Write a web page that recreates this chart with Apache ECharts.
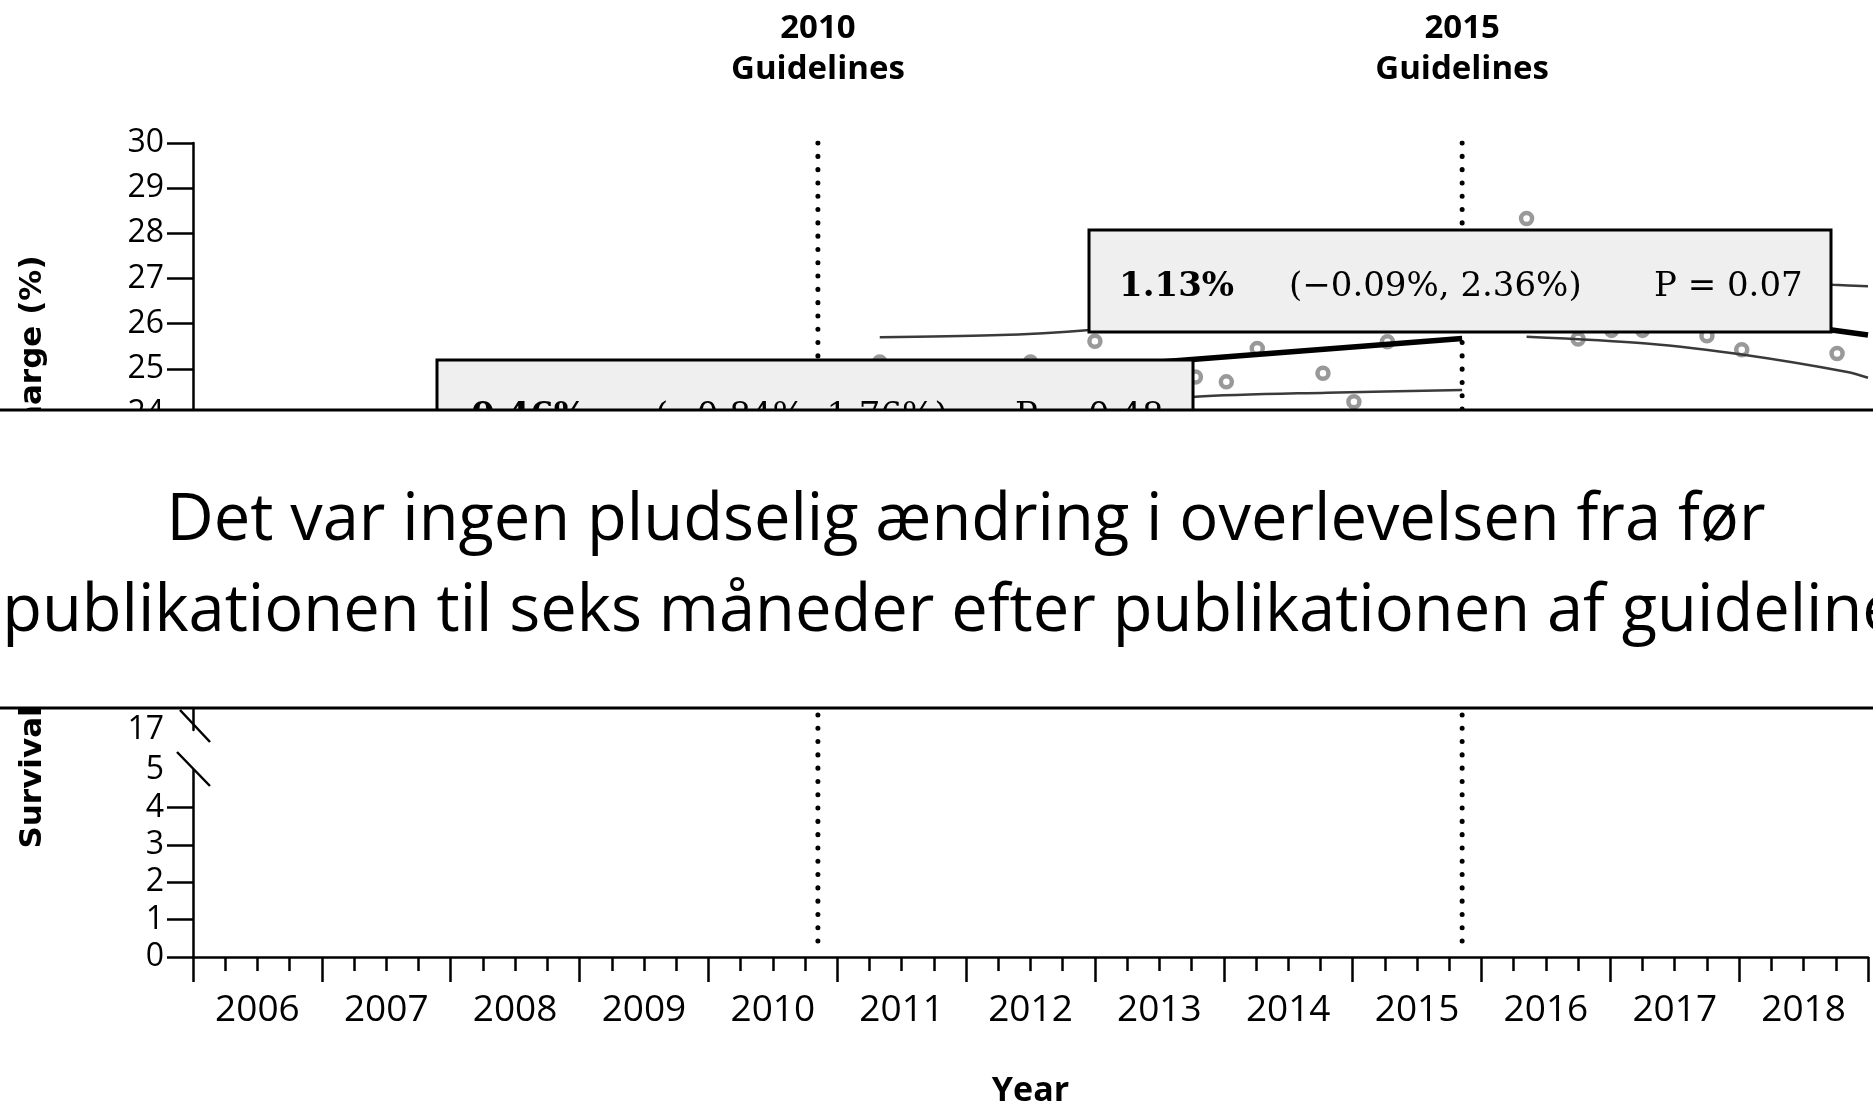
<!DOCTYPE html>
<html>
<head>
<meta charset="utf-8">
<script src="https://cdn.jsdelivr.net/npm/echarts@6/dist/echarts.min.js"></script>
<style>
  html, body { margin: 0; padding: 0; background: #fff; }
  #chart { width: 1873px; height: 1107px; }
</style>
</head>
<body>
<div id="chart"></div>
<script>
// x axis categories
const years = ['2006', '2007', '2008', '2009', '2010', '2011', '2012', '2013', '2014', '2015', '2016', '2017', '2018'];
const upperTickLabels = [17, 18, 19, 20, 21, 22, 23, 24, 25, 26, 27, 28, 29, 30];
const upperTicks = [18, 19, 20, 21, 22, 23, 24, 25, 26, 27, 28, 29, 30];
const lowerTickLabels = [0, 1, 2, 3, 4, 5];
const lowerTicks = [0, 1, 2, 3, 4];

// guideline publication (October)
const guidelineYears = [2010.85, 2015.85];
const guidelineLabels = ['2010', '2015'];

// quarterly survival (%) - the points that are not hidden by the overlay
const pointsPre = [[2011.33, 25.15], [2012.5, 25.15], [2013.0, 25.61], [2013.78, 24.82], [2014.02, 24.71],
  [2014.26, 25.45], [2014.77, 24.9], [2015.01, 24.27], [2015.27, 25.6]];
const pointsPost = [[2016.35, 28.33], [2016.75, 25.66], [2017.01, 25.85], [2017.25, 25.85],
  [2017.75, 25.73], [2018.02, 25.42], [2018.76, 25.34]];

// segmented regression fit + 95% CI
const fitPre = [[2011.33, 24.67], [2015.85, 25.67]];
const upperPre = [[2011.33, 25.7], [2012.2, 25.74], [2012.96, 25.86], [2014.4, 26.25], [2015.85, 26.81]];
const lowerPre = [[2011.33, 23.64], [2012.5, 24.08], [2013.78, 24.38], [2014.8, 24.47], [2015.85, 24.53]];
const fitPost = [[2016.33, 26.8], [2019, 25.75]];
const upperPost = [[2016.33, 27.9], [2017.5, 27.04], [2018.73, 26.86], [2019, 26.83]];
const lowerPost = [[2016.35, 25.71], [2017.28, 25.56], [2018.06, 25.3], [2018.84, 24.93], [2019, 24.8]];

// level change boxes
const effects = [
  { est: '1.13%', ci: '(\u22120.09%, 2.36%)', p: 'P = 0.07' },
  { est: '0.46%', ci: '(\u22120.84%, 1.76%)', p: 'P = 0.48' }
];

const overlayLines = [
  'Det var ingen pludselig ændring i overlevelsen fra før',
  'publikationen til seks måneder efter publikationen af guidelines'
];

const chart = echarts.init(document.getElementById('chart'));

const axisColor = '#000';
const sans = '"Open Sans", sans-serif';
const ciStyle = { color: '#3a3a3a', width: 2.5 };

const lineSeries = (data, style, smooth) => ({
  type: 'line',
  xAxisIndex: 0,
  yAxisIndex: 0,
  data: data,
  symbol: 'none',
  smooth: smooth ? 0.3 : false,
  lineStyle: style,
  z: 3,
  silent: true
});

const option = {
  animation: false,
  backgroundColor: '#fff',
  grid: [
    { left: 193, right: 5, top: 143, bottom: 377, outerBoundsMode: 'none' },
    { left: 193, right: 5, top: 770, bottom: 150, outerBoundsMode: 'none' },
    { left: 193, right: 5, top: 143, bottom: 155, outerBoundsMode: 'none' }
  ],
  xAxis: [
    { gridIndex: 0, type: 'value', min: 2006, max: 2019, show: false },
    {
      gridIndex: 1, type: 'value', min: 2006, max: 2019, interval: 1,
      axisLine: { show: true, lineStyle: { color: axisColor, width: 2.5 } },
      axisTick: { show: true, length: 25, lineStyle: { color: axisColor, width: 2.5 } },
      minorTick: { show: true, splitNumber: 4, length: 14, lineStyle: { color: axisColor, width: 2.5 } },
      axisLabel: { show: false },
      splitLine: { show: false },
      minorSplitLine: { show: false },
      name: 'Year',
      nameLocation: 'middle',
      nameGap: 117,
      nameTextStyle: { fontFamily: sans, fontWeight: 'bold', fontSize: 34, color: '#000' }
    },
    {
      gridIndex: 1, type: 'category', data: years, position: 'bottom',
      axisLine: { show: false }, axisTick: { show: false },
      axisLabel: { interval: 0, margin: 35, fontFamily: sans, fontSize: 37, color: '#000' }
    },
    { gridIndex: 2, type: 'value', min: 2006, max: 2019, show: false }
  ],
  yAxis: [
    {
      gridIndex: 0, type: 'value', min: 17, max: 30, interval: 1,
      axisLine: { show: true, lineStyle: { color: axisColor, width: 2.5 } },
      axisTick: { show: true, length: 26, customValues: upperTicks, lineStyle: { color: axisColor, width: 2.5 } },
      axisLabel: { customValues: upperTickLabels, margin: 29, fontFamily: sans, fontSize: 32, color: '#000' },
      splitLine: { show: false }
    },
    {
      gridIndex: 1, type: 'value', min: 0, max: 5, interval: 1,
      axisLine: { show: true, lineStyle: { color: axisColor, width: 2.5 } },
      axisTick: { show: true, length: 26, customValues: lowerTicks, lineStyle: { color: axisColor, width: 2.5 } },
      axisLabel: { customValues: lowerTickLabels, margin: 29, fontFamily: sans, fontSize: 32, color: '#000' },
      splitLine: { show: false }
    },
    { gridIndex: 2, type: 'value', min: 0, max: 1, show: false }
  ],
  series: [
    {
      type: 'scatter',
      xAxisIndex: 0,
      yAxisIndex: 0,
      data: pointsPre.concat(pointsPost),
      symbol: 'circle',
      symbolSize: 11,
      itemStyle: { color: '#fff', borderColor: '#999', borderWidth: 4.5, opacity: 1 },
      z: 2,
      silent: true
    },
    lineSeries(upperPre, ciStyle, true),
    lineSeries(lowerPre, ciStyle, true),
    lineSeries(upperPost, ciStyle, true),
    lineSeries(lowerPost, ciStyle, true),
    lineSeries(fitPre, { color: '#000', width: 5.5 }, false),
    lineSeries(fitPost, { color: '#000', width: 5.5 }, false)
  ].concat(guidelineYears.map(g => ({
    type: 'line',
    xAxisIndex: 3,
    yAxisIndex: 2,
    // drawn top to bottom so the dot pattern starts at the 30% tick
    data: [[g, 1], [g, 0]],
    symbol: 'none',
    lineStyle: { color: '#000', width: 5, type: [0.1, 13.2], cap: 'round' },
    z: 1,
    silent: true
  })))
};

chart.setOption(option);

// annotations placed from the axes
const gx = guidelineYears.map(g => chart.convertToPixel({ xAxisIndex: 1 }, g));
const axisX = chart.convertToPixel({ xAxisIndex: 1 }, 2006);
const y17 = chart.convertToPixel({ yAxisIndex: 0 }, 17);
const y5 = chart.convertToPixel({ yAxisIndex: 1 }, 5);

const elements = [];

gx.forEach((x, i) => {
  elements.push({
    type: 'text', x: x, y: 29, z: 20,
    style: { text: guidelineLabels[i], fontFamily: sans, fontWeight: 'bold', fontSize: 33, fill: '#000', align: 'center', verticalAlign: 'middle' }
  });
  elements.push({
    type: 'text', x: x, y: 70, z: 20,
    style: { text: 'Guidelines', fontFamily: sans, fontWeight: 'bold', fontSize: 33, fill: '#000', align: 'center', verticalAlign: 'middle' }
  });
});

// axis break marks
elements.push({
  type: 'line', z: 20,
  shape: { x1: axisX - 13, y1: y17 - 20, x2: axisX + 17, y2: y17 + 12 },
  style: { stroke: '#000', lineWidth: 2.5 }
});
elements.push({
  type: 'line', z: 20,
  shape: { x1: axisX - 16, y1: y5 - 18, x2: axisX + 17, y2: y5 + 16 },
  style: { stroke: '#000', lineWidth: 2.5 }
});

// y axis title
elements.push({
  type: 'text', x: 33, y: 552, rotation: Math.PI / 2, z: 20,
  style: { text: 'Survival to hospital discharge (%)', fontFamily: '"DejaVu Sans", sans-serif', fontWeight: 'bold', fontSize: 31, fill: '#000', align: 'center', verticalAlign: 'middle' }
});

// effect boxes
const boxes = [
  { x: 1089, y: 230, w: 742, h: 102, off: [30, 200, 565] },
  { x: 437, y: 360, w: 756, h: 102, off: [34, 218, 578] }
];
boxes.forEach((b, i) => {
  const e = effects[i];
  const ty = b.y + 57;
  const serif = '"DejaVu Serif", serif';
  elements.push({
    type: 'rect', z: 50,
    shape: { x: b.x, y: b.y, width: b.w, height: b.h },
    style: { fill: '#efefef', stroke: '#000', lineWidth: 3 }
  });
  elements.push({ type: 'text', z: 51, x: b.x + b.off[0], y: ty, style: { text: e.est, fontFamily: serif, fontWeight: 'bold', fontSize: 34, fill: '#000', verticalAlign: 'middle' } });
  elements.push({ type: 'text', z: 51, x: b.x + b.off[1], y: ty, style: { text: e.ci, fontFamily: serif, fontSize: 34, fill: '#000', verticalAlign: 'middle' } });
  elements.push({ type: 'text', z: 51, x: b.x + b.off[2], y: ty, style: { text: e.p, fontFamily: serif, fontSize: 34, fill: '#000', verticalAlign: 'middle' } });
});

// slide overlay band
elements.push({
  type: 'rect', z: 100,
  shape: { x: 0, y: 410, width: 1873, height: 298 },
  style: { fill: '#fff' }
});
elements.push({ type: 'line', z: 101, shape: { x1: 0, y1: 410, x2: 1873, y2: 410 }, style: { stroke: '#000', lineWidth: 3 } });
elements.push({ type: 'line', z: 101, shape: { x1: 0, y1: 708, x2: 1873, y2: 708 }, style: { stroke: '#000', lineWidth: 3 } });
overlayLines.forEach((t, i) => {
  elements.push({
    type: 'text', z: 102, x: 966, y: 521 + i * 91,
    style: { text: t, fontFamily: sans, fontSize: 65, fill: '#000', align: 'center', verticalAlign: 'middle' }
  });
});

chart.setOption({ graphic: { elements: elements } });
</script>
</body>
</html>
